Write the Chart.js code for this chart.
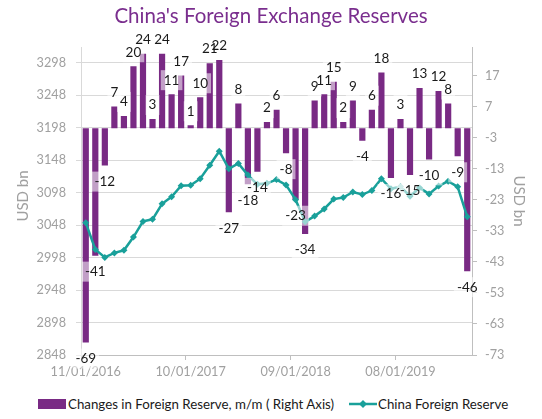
<!DOCTYPE html>
<html>
<head>
    <title>China's Foreign Exchange Reserves</title>
    <script src="https://cdn.jsdelivr.net/npm/chart.js"></script>
    <style>
        body { margin: 0; background: #fff; font-family: Lato, sans-serif; }
        #wrap { position: relative; width: 542px; height: 419px; }
        #chartBox { position: absolute; left: 0; top: 0; width: 542px; height: 392px; }
        .lg { position: absolute; font-size: 13.3px; color: #1a1a1a; white-space: nowrap; line-height: 16px; }
        #swBar { position: absolute; left: 38px; top: 399px; width: 28px; height: 10px; background: #792A84; }
        #swLine { position: absolute; left: 349px; top: 398px; }
    </style>
</head>
<body>
<div id="wrap">
    <div id="chartBox"><canvas id="fxChart"></canvas></div>
    <div id="swBar"></div>
    <div class="lg" style="left:68px; top:396px;">Changes in Foreign Reserve, m/m ( Right Axis)</div>
    <svg id="swLine" width="28" height="12">
        <line x1="0" y1="6" x2="28" y2="6" stroke="#19A09A" stroke-width="2.5"/>
        <polygon points="14,2 18,6 14,10 10,6" fill="#19A09A"/>
    </svg>
    <div class="lg" style="left:378px; top:396px;">China Foreign Reserve</div>
</div>

<script>
    // months, 11/2016 .. 03/2020
    const months = [
        '11/01/2016', '12/01/2016', '01/01/2017', '02/01/2017', '03/01/2017', '04/01/2017',
        '05/01/2017', '06/01/2017', '07/01/2017', '08/01/2017', '09/01/2017', '10/01/2017',
        '11/01/2017', '12/01/2017', '01/01/2018', '02/01/2018', '03/01/2018', '04/01/2018',
        '05/01/2018', '06/01/2018', '07/01/2018', '08/01/2018', '09/01/2018', '10/01/2018',
        '11/01/2018', '12/01/2018', '01/01/2019', '02/01/2019', '03/01/2019', '04/01/2019',
        '05/01/2019', '06/01/2019', '07/01/2019', '08/01/2019', '09/01/2019', '10/01/2019',
        '11/01/2019', '12/01/2019', '01/01/2020', '02/01/2020', '03/01/2020'
    ];

    // monthly change, USD bn (right axis)
    const changes = [
        -69, -41, -12, 7, 4, 20, 24, 3, 24, 11, 17, 1, 10, 21, 22, -27, 8, -18, -14, 2, 6,
        -8, -23, -34, 9, 11, 15, 2, 9, -4, 6, 18, -16, 3, -15, 13, -10, 12, 8, -9, -46
    ];

    // reserve level, USD bn (left axis)
    const reserves = [
        3051.6, 3010.5, 2998.2, 3005.1, 3009.1, 3029.5, 3053.6, 3056.8, 3080.7, 3091.5, 3108.5,
        3109.2, 3119.3, 3139.9, 3161.5, 3134.5, 3142.8, 3124.9, 3110.6, 3112.1, 3117.9, 3109.7,
        3087.0, 3053.1, 3061.7, 3072.7, 3087.9, 3090.2, 3098.8, 3094.9, 3101.0, 3119.2, 3103.7,
        3107.2, 3092.4, 3105.2, 3095.9, 3107.9, 3115.5, 3106.7, 3060.6
    ];

    const leftTicks = [2848, 2898, 2948, 2998, 3048, 3098, 3148, 3198, 3248, 3298];
    const rightTicks = [-73, -63, -53, -43, -33, -23, -13, -3, 7, 17];

    const purple = '#792A84';
    const teal = '#19A09A';
    const tickGrey = '#A0A0A0';

    // value labels on the bars, with a see-through white box behind
    const barLabels = {
        id: 'barLabels',
        afterDatasetsDraw(chart) {
            const ctx = chart.ctx;
            const bars = chart.getDatasetMeta(1).data;
            ctx.save();
            ctx.font = '13.5px Lato';
            ctx.textAlign = 'center';
            ctx.textBaseline = 'middle';
            const spots = bars.map((bar, i) => {
                const v = changes[i];
                const y = v >= 0 ? bar.y - 14 : bar.y + 16;
                return { x: bar.x, y: y, text: String(v), w: ctx.measureText(String(v)).width };
            });
            ctx.fillStyle = 'rgba(255,255,255,0.55)';
            spots.forEach(s => ctx.fillRect(s.x - s.w / 2 - 3, s.y - 10, s.w + 6, 20));
            ctx.fillStyle = '#1a1a1a';
            spots.forEach(s => ctx.fillText(s.text, s.x, s.y));
            ctx.restore();
        }
    };

    // "USD bn" on both sides
    const axisTitles = {
        id: 'axisTitles',
        afterDraw(chart) {
            const ctx = chart.ctx;
            ctx.save();
            ctx.font = '15px Lato';
            ctx.fillStyle = tickGrey;
            ctx.textAlign = 'center';
            ctx.textBaseline = 'middle';
            ctx.translate(23, 196);
            ctx.rotate(-Math.PI / 2);
            ctx.fillText('USD bn', 0, 0);
            ctx.restore();
            ctx.save();
            ctx.font = '15px Lato';
            ctx.fillStyle = tickGrey;
            ctx.textAlign = 'center';
            ctx.textBaseline = 'middle';
            ctx.translate(519, 201);
            ctx.rotate(Math.PI / 2);
            ctx.fillText('USD bn', 0, 0);
            ctx.restore();
        }
    };

    const ctx = document.getElementById('fxChart').getContext('2d');
    const chart = new Chart(ctx, {
        type: 'bar',
        data: {
            labels: months,
            datasets: [
                {
                    type: 'line',
                    label: 'China Foreign Reserve',
                    data: reserves,
                    yAxisID: 'yLeft',
                    borderColor: teal,
                    backgroundColor: teal,
                    borderWidth: 2.5,
                    pointStyle: 'rectRot',
                    pointRadius: 3.5,
                    pointBorderWidth: 0,
                    tension: 0,
                    order: 0
                },
                {
                    type: 'bar',
                    label: 'Changes in Foreign Reserve, m/m ( Right Axis)',
                    data: changes,
                    yAxisID: 'yRight',
                    backgroundColor: purple,
                    barPercentage: 0.65,
                    categoryPercentage: 1,
                    order: 1
                }
            ]
        },
        options: {
            responsive: true,
            maintainAspectRatio: false,
            animation: false,
            layout: { padding: 0 },
            plugins: {
                legend: { display: false },
                tooltip: { enabled: false },
                title: {
                    display: true,
                    text: "China's Foreign Exchange Reserves",
                    color: '#7A2E8E',
                    font: { family: 'Lato', size: 20.5, weight: 'normal' },
                    padding: { top: 4, bottom: 19 }
                }
            },
            scales: {
                x: {
                    afterFit(scale) { scale.height = 37; },
                    grid: {
                        offset: true,
                        drawOnChartArea: false,
                        tickLength: 5,
                        color: c => (c.index % 11 === 0 ? '#BFBFBF' : 'rgba(0,0,0,0)')
                    },
                    border: { color: '#BFBFBF' },
                    ticks: {
                        autoSkip: false,
                        maxRotation: 0,
                        padding: 4,
                        color: tickGrey,
                        font: { family: 'Lato', size: 12.7 },
                        callback: (val, i) => (i % 11 === 0 ? months[i] : '')
                    }
                },
                yLeft: {
                    position: 'left',
                    min: 2848,
                    max: 3321,
                    afterFit(scale) { scale.width = 81; },
                    afterBuildTicks(scale) { scale.ticks = leftTicks.map(v => ({ value: v })); },
                    grid: { color: '#D9D9D9', tickLength: 5 },
                    border: { color: '#D9D9D9' },
                    ticks: {
                        padding: 10,
                        color: tickGrey,
                        font: { family: 'Lato', size: 12.7 },
                        callback: v => String(v)
                    }
                },
                yRight: {
                    position: 'right',
                    min: -73,
                    max: 26,
                    afterFit(scale) { scale.width = 70; },
                    afterBuildTicks(scale) { scale.ticks = rightTicks.map(v => ({ value: v })); },
                    grid: { drawOnChartArea: false, color: '#BFBFBF', tickLength: 5 },
                    border: { color: '#BFBFBF' },
                    ticks: {
                        padding: 8,
                        color: tickGrey,
                        font: { family: 'Lato', size: 12.7 },
                        callback: v => String(v)
                    }
                }
            }
        },
        plugins: [barLabels, axisTitles]
    });
</script>
</body>
</html>
